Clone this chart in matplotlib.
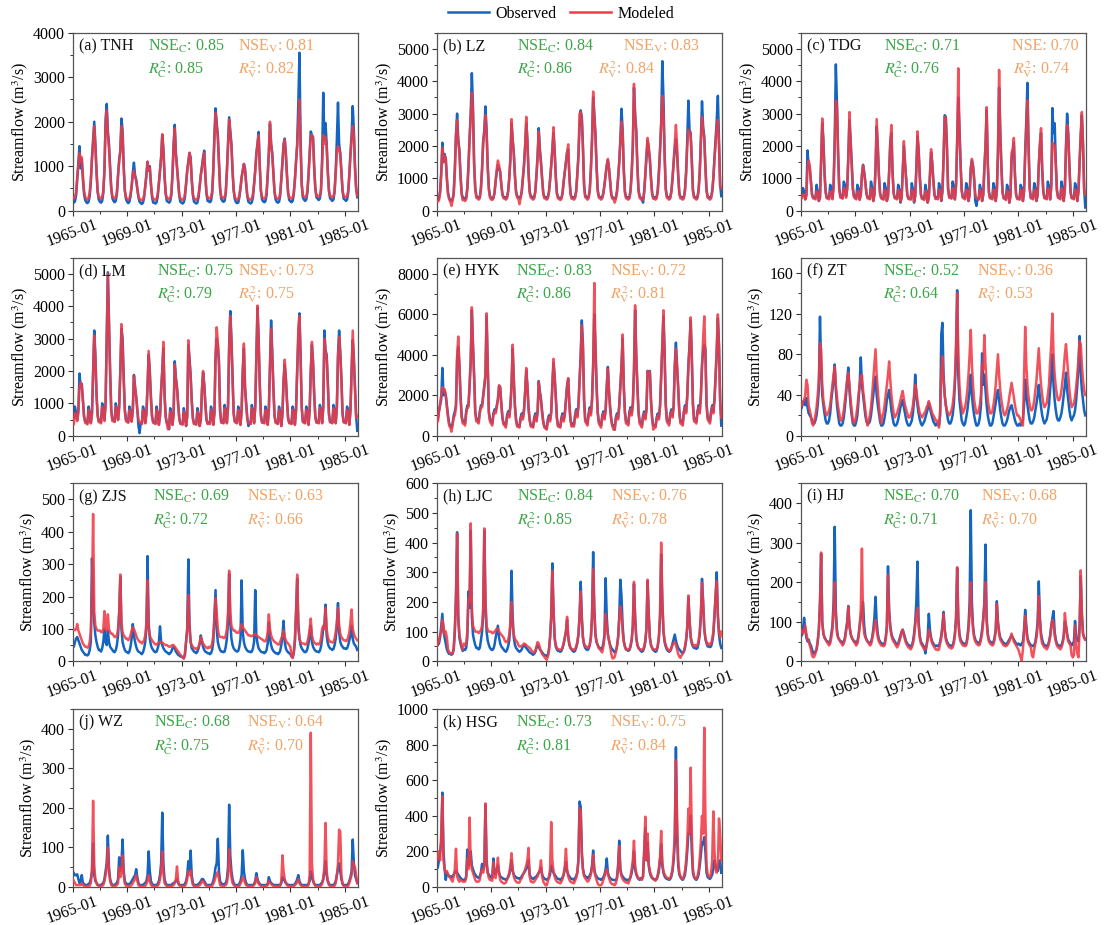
import numpy as np
import matplotlib
matplotlib.use('Agg')
import matplotlib.pyplot as plt
from matplotlib.lines import Line2D

plt.rcParams['font.family'] = ['Liberation Serif', 'DejaVu Serif']
plt.rcParams['mathtext.fontset'] = 'stix'


def series(s):
    # 21 rows (1965..1985) x 12 monthly values
    return np.array(s.split(), dtype=float)


# ---------------------------------------------------------------- data
STATIONS = ['TNH', 'LZ', 'TDG', 'LM', 'HYK', 'ZT', 'ZJS', 'LJC', 'HJ', 'WZ', 'HSG']
NSE_C = ['0.85', '0.84', '0.71', '0.75', '0.83', '0.52', '0.69', '0.84', '0.70', '0.68', '0.73']
NSE_V = ['0.81', '0.83', '0.70', '0.73', '0.72', '0.36', '0.63', '0.76', '0.68', '0.64', '0.75']
R2_C = ['0.85', '0.86', '0.76', '0.79', '0.86', '0.64', '0.72', '0.85', '0.71', '0.75', '0.81']
R2_V = ['0.82', '0.84', '0.74', '0.75', '0.81', '0.53', '0.66', '0.78', '0.70', '0.70', '0.84']
YTOP = [4000, 5500, 5500, 5500, 8800, 175, 550, 600, 450, 450, 1000]
YMAJ = [1000, 1000, 1000, 1000, 2000, 40, 100, 100, 100, 100, 200]
XTICKS = [1965, 1969, 1973, 1977, 1981, 1985]
XLABELS = ['1965-01', '1969-01', '1973-01', '1977-01', '1981-01', '1985-01']

TNH_OBS = series("""
200 180 210 350 700 1100 1450 950 1150 700 380 240
190 170 200 330 650 1200 1600 2000 1500 900 420 250
200 180 220 400 900 2050 2400 1800 1500 1000 500 280
220 190 220 380 800 1150 1350 2070 1800 1000 450 260
200 170 200 320 550 850 1080 800 700 500 300 200
170 150 180 300 550 800 1100 900 1000 600 300 180
180 160 190 320 600 900 1200 1700 1400 800 380 220
200 180 210 350 800 1500 1930 1300 1000 650 330 200
180 160 190 300 600 900 1100 1300 1200 700 350 200
180 160 180 300 550 800 1000 1200 1350 800 380 220
210 190 220 380 900 1700 2300 1980 1700 1100 500 270
220 200 220 380 900 1500 2100 1800 1500 900 450 260
190 170 180 300 500 750 900 1050 950 600 320 200
180 160 190 300 600 900 1300 1500 1770 1000 450 250
210 190 210 350 800 1300 1950 1500 1300 850 420 250
200 180 200 330 700 1100 1500 1620 1300 800 400 240
210 190 220 360 700 1100 1500 2400 3550 1600 600 300
250 220 250 400 800 1300 1780 1700 1650 1000 500 300
270 240 270 450 1200 2650 1600 1970 1500 900 450 280
250 220 250 420 900 1600 2430 1500 1300 900 450 270
250 220 250 400 800 1300 1700 2350 1800 1000 500 300
""")
TNH_MOD = series("""
300 280 300 420 750 1000 1300 1100 1200 800 450 320
270 250 280 420 700 1150 1500 1900 1450 850 450 300
300 260 300 450 900 1900 2250 1700 1400 900 500 320
300 270 300 420 800 1100 1300 1900 1700 950 450 300
270 240 270 380 550 800 900 750 680 480 330 260
250 230 250 350 550 800 1100 900 950 600 350 260
260 240 270 380 600 900 1200 1720 1350 780 400 280
280 250 280 400 800 1400 1850 1250 950 640 350 270
260 240 260 380 600 900 1100 1300 1150 700 380 270
260 240 260 360 550 800 950 1150 1300 780 400 280
290 270 300 440 900 1600 2200 1900 1650 1050 500 320
300 280 300 420 850 1450 2050 1700 1450 880 460 310
260 240 260 360 520 750 900 1050 900 620 350 270
260 240 270 380 600 900 1250 1500 1700 1000 450 300
290 270 290 420 800 1300 2000 1500 1250 850 430 300
280 260 280 400 700 1050 1450 1600 1250 780 420 290
290 270 300 420 700 1100 1450 2000 2500 1400 600 330
320 300 320 450 800 1250 1700 1700 1600 950 500 330
340 310 340 480 1000 1700 1500 1650 1450 850 460 330
320 300 320 450 850 1300 1450 1400 1250 850 460 320
320 300 320 450 800 1250 1600 1900 1700 950 500 340
""")

LZ_OBS = series("""
350 320 380 600 1200 2100 1500 1750 1600 1000 550 400
320 300 350 550 1300 2350 3000 2200 1900 1100 550 380
400 350 400 700 1400 2250 3000 4250 3200 1500 700 450
420 380 420 700 1300 2150 2500 3220 2500 1400 700 450
400 360 400 550 900 1200 1400 1300 1200 800 500 420
420 380 420 600 1000 1600 2700 2200 1800 1100 600 450
420 380 420 600 1000 1400 2000 2700 2200 1200 600 450
430 380 420 600 1100 1700 2550 1900 1500 1000 550 420
420 380 420 580 950 1400 1900 2400 1900 1100 550 420
400 360 400 550 900 1200 1500 1800 1900 1100 550 400
420 380 420 600 1100 1700 2600 3100 2900 2000 800 450
430 390 430 650 1300 2200 3500 3000 2400 1400 650 450
420 380 420 550 800 1100 1400 1550 1300 900 500 400
400 360 400 600 1000 1500 2200 3150 2500 1300 600 420
420 380 420 650 1200 2000 3800 3000 2500 1400 650 450
400 360 250 600 1100 1600 2150 1900 1600 1000 550 400
420 380 420 650 1200 1900 2700 4620 3500 1800 700 450
420 380 420 600 1000 1500 1900 2200 1800 1100 550 420
420 380 420 650 1200 2200 3400 2500 2400 1600 650 430
420 380 420 650 1200 2200 3380 2600 2300 1400 650 430
420 380 420 600 1000 1600 2200 2800 3550 2200 800 450
""")
LZ_MOD = series("""
300 280 320 550 1100 1950 1500 1700 1600 950 500 350
280 150 300 500 1200 2300 2800 2100 1800 1050 500 320
350 300 350 650 1300 2200 2900 3650 3000 1400 650 400
380 340 380 650 1250 2100 2400 2950 2400 1300 650 400
350 330 380 550 950 1300 1550 1400 1200 800 480 380
380 340 380 580 1000 1600 2830 2200 1750 1050 560 400
380 200 380 580 1000 1400 2000 2900 2100 1150 560 400
380 340 380 580 1100 1650 2450 1850 1450 950 520 380
380 340 380 560 950 1400 1850 2580 1850 1050 520 380
360 330 360 530 900 1200 1500 1800 2050 1050 520 370
380 340 380 580 1100 1650 3000 3050 2800 1900 750 420
380 340 380 600 1250 2150 3680 2900 2300 1350 600 400
380 340 380 530 800 1100 1400 1600 1300 880 480 370
360 250 360 560 1000 1500 2100 2750 2400 1250 560 380
380 340 380 600 1150 2000 3920 2900 2400 1350 600 400
360 320 360 560 1100 1800 2250 2000 1600 1000 520 370
380 340 380 600 1150 1850 2700 3550 3000 1700 650 400
380 340 380 580 1000 1500 2100 2650 2000 1100 520 380
380 340 380 600 1150 2000 2500 2450 2300 1500 600 400
380 340 380 600 1150 2100 2900 2500 2200 1300 600 400
380 340 380 580 1000 1600 2100 2600 2800 2000 750 700
""")

TDG_OBS = series("""
600 450 700 600 350 500 1860 1400 1300 900 500 400
400 380 800 600 300 400 1600 2700 2200 1200 600 400
400 380 800 700 400 800 2200 4520 3300 1800 700 450
420 400 900 800 450 700 1700 2800 2200 1500 700 450
400 380 800 700 350 500 1100 1420 1200 900 550 400
400 380 900 700 300 500 1300 2600 2000 1100 550 400
380 360 850 700 300 450 1200 2100 2400 1200 550 400
400 380 800 650 250 400 1200 2000 1500 1000 500 380
380 360 850 650 250 450 1300 2300 1900 1100 520 380
380 360 800 600 250 400 1100 1800 1500 950 500 380
400 380 850 700 300 600 1600 2950 2900 2000 700 420
420 400 900 750 350 800 2200 3500 2600 1500 650 420
400 380 850 700 300 500 1300 1550 1400 1000 300 150
380 360 800 650 300 500 1300 2000 3100 1500 600 400
400 380 850 700 300 600 1800 3800 2500 1400 600 400
380 360 800 650 250 450 1600 1800 2100 1100 500 380
380 360 800 700 300 600 1800 2800 3950 2000 700 400
400 380 850 700 300 500 1400 2000 2400 1300 600 400
400 380 900 750 350 800 3170 2400 2700 1500 650 420
400 380 900 700 300 700 2000 3000 2400 1400 600 400
400 380 850 700 300 600 1500 2300 2950 2100 700 100
""")
TDG_MOD = series("""
400 380 500 500 350 450 1300 1550 1400 900 500 380
380 350 600 550 300 400 1500 2850 2100 1100 550 380
380 350 600 600 350 700 2100 3400 3200 1700 650 400
400 370 700 650 400 650 1600 3050 2100 1400 650 420
380 350 600 600 330 500 1100 1400 1150 850 520 380
380 350 700 600 300 500 1300 2830 1900 1050 520 380
360 340 650 600 300 450 1150 2100 2650 1150 520 380
380 350 650 580 280 420 1200 2150 1450 950 480 360
360 340 650 580 280 450 1250 2450 1850 1050 500 360
360 330 620 550 260 420 1100 1900 1450 900 480 360
380 350 650 620 320 600 1600 2900 2850 1900 650 400
400 370 700 650 350 750 2100 4400 2500 1400 600 400
380 350 650 600 300 500 1300 1600 1350 950 520 380
360 340 650 600 300 500 1300 2000 3200 1450 560 380
380 350 650 620 300 600 1800 4350 2400 1350 560 380
360 330 620 580 250 450 1800 1900 2250 1050 480 360
360 340 650 620 300 600 1700 2600 3400 1900 650 380
380 350 650 620 300 500 1400 2100 2550 1250 560 380
380 350 700 650 350 700 2100 2050 2000 1400 600 400
380 350 700 620 300 650 1900 2650 2300 1350 560 380
380 350 650 600 300 600 1500 2400 3050 2000 650 500
""")

LM_OBS = series("""
600 550 900 700 500 800 1920 1500 1600 1100 600 450
400 380 900 700 400 700 2000 3250 2500 1300 650 450
450 420 1000 800 500 1000 3000 5050 3500 2000 800 500
480 450 1000 800 500 900 2000 3300 3000 1800 800 500
450 420 900 750 450 800 1880 1500 1200 800 300 80
400 380 900 750 400 700 1500 2500 2000 1200 600 420
400 380 900 700 350 600 1400 2000 2700 1300 600 400
380 200 850 650 350 700 2300 1800 1500 1000 550 380
380 360 850 650 300 600 2800 2400 1900 1100 550 380
380 360 850 650 300 500 1400 1950 1600 1000 500 380
400 380 900 700 350 700 2400 3000 2800 2300 800 420
420 400 950 750 400 900 2800 3850 3000 1800 700 450
420 400 900 700 350 800 2000 2700 1500 1000 550 300
400 380 950 750 400 900 2500 3950 3000 1600 650 420
420 400 900 750 350 800 2200 3560 2600 1500 650 420
400 380 900 700 300 700 1700 2200 1800 1100 550 400
400 380 900 750 350 800 2000 3000 3780 2500 900 450
420 400 900 750 350 800 2000 2800 2300 1300 600 420
420 400 950 800 400 900 3250 2650 2500 1700 700 430
430 400 950 800 400 900 2500 3250 2600 1800 700 430
420 400 900 750 350 800 2000 2950 2400 1500 600 150
""")
LM_MOD = series("""
500 350 700 650 450 700 1500 1650 1550 1100 600 400
380 350 800 650 380 650 1900 3100 2400 1250 600 420
420 380 900 750 450 950 2900 5000 3400 1900 750 450
450 420 900 750 480 850 2000 3450 2800 1700 750 450
420 400 800 700 430 750 1850 1500 1200 800 500 420
380 360 800 700 380 650 1500 2620 1900 1150 580 400
380 360 800 650 330 600 1400 2000 2900 1250 580 380
200 250 750 600 330 650 2200 1750 1450 950 520 360
360 340 750 600 300 600 2950 2300 1800 1050 520 360
360 340 750 600 300 500 1400 2000 1550 950 480 360
380 360 800 650 330 700 2500 3350 2900 2200 750 400
400 380 850 700 380 850 2700 3700 2900 1700 650 420
400 380 800 650 330 750 2000 2850 1500 950 520 380
380 360 850 700 380 850 2500 4020 2900 1550 600 400
400 380 800 700 330 750 2100 3300 2500 1450 600 400
380 360 800 650 300 650 1700 2350 1750 1050 520 380
380 360 800 700 330 750 2000 3300 3700 2400 850 420
400 380 800 700 330 750 2000 2900 2200 1250 560 400
400 380 850 750 380 850 3000 2600 2400 1600 650 410
410 380 850 750 380 850 2400 3050 2500 1700 650 410
400 380 800 700 330 750 2000 3250 2300 1400 560 600
""")

HYK_OBS = series("""
900 800 1200 1500 1800 3350 2000 2200 2000 1500 1000 600
500 400 600 1000 1200 1500 3800 4400 3500 2000 1000 700
700 600 1200 1500 1500 2500 3700 6200 4500 3000 1200 800
800 700 1200 1500 1500 2000 2500 3000 5900 3500 1200 800
700 600 1100 1300 1200 1500 1800 2450 2400 1600 900 600
600 500 1000 1200 1000 1500 2500 4300 2800 1500 800 500
500 450 900 1100 900 1300 2200 3200 2500 1400 800 500
500 450 900 1100 800 1200 2700 2200 1800 1200 700 450
400 350 800 1000 800 1200 2500 3600 3000 2000 900 500
500 450 900 1100 800 1100 1800 2500 2800 1600 800 500
600 500 1000 1300 1000 1500 2800 4000 5700 4500 1800 800
700 600 1100 1400 1100 1800 3500 6000 4500 2500 1200 700
600 500 1000 1200 900 1300 2500 3400 2200 1400 800 500
500 300 900 1100 900 1500 2500 3500 4800 2500 1200 700
700 600 1200 1400 1100 1600 3200 6200 4000 2500 1200 700
600 500 1000 1200 900 1300 3200 3100 3200 1800 900 500
500 450 900 1100 900 1500 3000 4600 5900 4200 1600 800
700 600 1100 1300 1000 1500 3500 4600 3500 2500 1200 700
700 600 1200 1500 1200 2000 3500 4500 5700 4000 1600 800
800 700 1200 1500 1200 2000 3500 4200 4500 4300 1600 900
800 700 1200 1500 1200 1800 3000 4000 5800 4500 1800 500
""")
HYK_MOD = series("""
700 700 1200 1600 2000 2400 2200 2300 2000 1400 900 500
400 200 500 900 1000 1400 3900 4900 3600 1900 900 600
600 500 1100 1400 1400 2400 3700 6350 4400 2900 1100 700
700 600 1100 1400 1400 1900 2400 3000 6050 3400 1100 700
600 500 1000 1200 1100 1400 1800 2500 2400 1500 850 550
500 400 900 1100 900 1400 2400 4500 2700 1400 750 450
450 400 800 1000 800 1200 2100 3350 2400 1300 750 450
450 400 800 1000 700 1100 2650 2100 1700 1100 650 400
350 300 700 900 700 1100 2400 3800 2900 1900 850 450
450 400 800 1000 700 1000 1700 2400 2850 1500 750 450
500 450 900 1200 900 1400 2700 3900 5450 4300 1700 700
600 500 1000 1300 1000 1700 3400 7550 4400 2400 1100 600
500 400 900 1100 800 1200 2400 3300 2100 1300 750 450
300 300 800 1000 800 1400 2400 3400 5000 2400 1100 600
600 500 1100 1300 1000 1500 3100 6450 3900 2400 1100 600
500 400 900 1100 800 1200 3200 3150 3150 1700 850 300
450 400 800 1000 800 1400 2900 4500 6200 4000 1500 700
600 500 1000 1200 900 1400 3400 4300 3400 2400 1100 600
600 500 1100 1400 1100 1900 3400 4400 5850 3800 1500 700
700 600 1100 1400 1100 1900 3400 4800 5900 4000 1500 800
700 600 1100 1400 1100 1700 2900 4500 6000 4300 1700 900
""")

ZT_OBS = series("""
25 28 32 35 30 37 28 22 20 18 15 12
12 15 20 30 45 117 70 40 30 22 15 12
12 15 22 35 45 55 70 45 30 20 12 10
10 12 18 28 40 55 67 45 30 20 12 10
10 14 20 35 50 77 50 40 30 20 14 12
12 14 20 30 40 50 58 40 30 22 14 10
10 12 18 25 35 40 45 35 25 18 12 10
10 12 16 22 28 32 35 28 22 16 12 10
10 12 15 22 35 60 40 30 22 16 12 10
12 14 18 22 26 32 28 22 18 14 12 10
12 12 10 20 100 111 60 40 30 22 15 12
12 15 20 30 50 80 143 60 35 25 15 12
10 12 18 25 35 45 60 40 28 20 14 10
10 12 18 30 81 50 60 45 30 20 14 10
10 12 18 25 32 40 45 35 25 18 12 10
10 12 15 20 25 28 30 25 20 15 12 10
10 12 10 12 15 30 55 40 30 22 15 12
12 14 18 25 32 40 50 38 28 20 15 12
14 16 22 30 45 60 80 50 35 25 18 15
15 18 22 30 40 50 62 45 35 25 18 15
18 20 25 35 50 70 98 60 45 35 25 20
""")
ZT_MOD = series("""
30 30 33 35 40 55 50 30 25 20 12 10
15 20 28 40 55 91 85 50 35 28 22 20
22 25 30 40 50 60 68 50 38 28 22 15
15 18 25 35 45 55 62 50 35 25 15 12
15 20 28 40 50 58 60 45 35 25 15 10
15 20 28 40 55 70 85 60 45 30 18 12
20 22 30 40 50 60 73 55 40 30 22 18
20 22 26 30 35 40 44 36 30 26 22 18
18 20 24 30 40 50 45 35 28 22 20 18
20 22 24 28 30 34 30 26 22 20 18 15
15 12 8 25 60 78 55 40 30 25 22 20
22 25 30 40 55 90 140 80 50 35 28 22
25 28 35 45 60 80 104 70 50 35 28 22
22 25 30 40 70 65 99 70 50 35 28 22
22 24 30 38 50 65 80 60 45 35 28 22
20 22 26 30 38 45 52 45 38 30 24 20
20 18 15 12 10 60 107 70 50 38 30 25
25 28 35 45 55 70 86 65 50 40 32 28
30 32 40 50 72 90 120 80 60 48 40 35
35 38 45 55 65 80 90 75 60 45 35 28
30 32 38 48 60 75 93 90 70 55 45 40
""")

ZJS_OBS = series("""
50 45 60 70 75 65 55 45 35 30 25 20
20 18 22 35 60 318 200 120 80 60 45 35
35 30 40 60 100 60 50 95 60 45 40 35
30 28 35 50 80 150 260 100 60 45 35 30
28 25 30 45 70 115 80 60 45 35 30 28
25 22 28 40 60 100 325 120 70 50 40 35
30 28 30 40 55 108 60 50 40 35 30 28
25 22 25 30 40 45 40 30 25 20 18 15
15 12 10 20 60 100 315 120 60 40 35 30
28 25 30 40 55 80 60 45 35 30 28 25
25 22 25 35 60 140 220 100 60 45 35 30
30 28 30 45 70 120 270 120 70 50 40 35
32 30 32 45 70 250 90 60 45 38 33 30
30 28 30 40 60 220 80 55 40 35 30 28
28 25 28 35 55 120 70 50 38 32 28 25
25 22 25 32 50 80 125 60 40 32 28 25
22 15 12 25 60 150 255 120 70 50 40 35
30 28 30 38 55 80 110 60 45 38 33 30
30 28 32 45 70 100 110 175 80 55 45 40
38 35 38 50 70 110 180 90 60 50 45 40
40 38 40 50 65 80 110 70 55 50 45 35
""")
ZJS_MOD = series("""
100 98 96 100 115 95 85 75 65 55 50 45
45 42 45 60 90 200 455 150 110 100 95 95
95 90 90 100 155 100 95 145 100 90 85 85
80 75 75 80 100 150 268 120 90 80 75 70
70 65 70 80 95 105 100 90 80 70 65 60
60 55 60 65 80 120 250 100 80 70 65 60
55 52 52 55 58 60 60 58 55 52 50 50
48 45 45 48 50 50 45 40 35 30 25 20
15 12 8 25 60 100 205 100 60 50 45 40
40 38 40 45 55 75 65 55 50 45 42 40
45 42 45 55 80 130 195 150 100 80 75 75
75 72 72 80 100 150 280 150 110 100 95 95
90 88 88 92 100 115 105 100 95 90 85 80
80 78 78 80 82 85 80 78 75 72 70 68
65 62 62 70 90 145 100 80 70 65 60 58
55 52 52 60 70 80 95 75 65 58 55 50
45 15 10 30 70 150 268 100 70 60 55 55
55 52 52 60 75 100 132 80 65 58 55 52
55 52 55 70 100 110 100 165 100 75 65 60
60 58 60 70 90 120 165 110 85 75 70 65
65 62 65 75 90 120 160 100 85 75 70 65
""")

LJC_OBS = series("""
50 55 60 80 120 160 100 80 60 40 30 25
25 22 25 40 100 225 435 150 80 60 45 35
40 38 45 80 235 180 440 150 90 70 55 45
45 40 45 70 100 150 440 200 100 70 55 45
40 38 42 55 80 100 120 80 60 50 45 40
35 32 38 50 70 120 305 150 80 55 45 40
35 32 35 40 50 55 50 45 40 35 30 28
25 22 25 32 45 55 50 40 35 30 25 20
20 18 20 40 80 150 330 180 80 50 40 35
35 32 35 45 60 80 100 140 80 55 45 40
35 32 35 45 60 90 150 268 150 80 55 45
40 38 42 55 80 150 368 180 90 65 55 45
45 40 45 60 90 280 150 90 70 55 45 40
35 30 35 50 80 150 275 220 120 70 50 40
38 35 38 50 70 120 260 150 80 55 45 40
35 32 35 45 65 110 270 160 80 55 45 38
35 32 35 50 80 150 360 200 100 65 50 40
35 32 35 45 60 75 90 70 55 45 40 35
30 28 32 45 70 110 215 140 80 60 50 45
45 42 45 60 90 150 278 200 110 75 60 50
50 48 50 65 90 150 220 300 150 90 60 45
""")
LJC_MOD = series("""
50 60 70 90 100 140 120 90 100 80 40 30
28 25 28 45 110 200 430 150 90 70 50 40
60 55 60 100 210 200 465 180 120 110 100 100
100 95 100 105 120 180 448 200 120 105 100 100
100 95 95 100 105 110 110 100 95 90 85 80
70 65 65 70 90 130 200 120 90 75 70 65
55 50 50 52 55 60 58 55 50 48 45 40
35 30 30 35 50 65 60 45 35 25 20 15
10 5 15 35 80 150 305 180 80 55 45 40
40 38 40 45 60 80 100 150 85 60 45 40
40 38 40 50 65 90 150 235 140 80 60 50
50 45 45 55 80 150 310 170 90 65 55 45
40 35 30 50 80 160 120 90 70 50 25 10
10 15 30 50 80 140 185 160 100 65 50 40
40 38 40 55 75 120 268 150 80 55 45 40
40 38 40 50 70 110 275 160 80 55 45 40
40 38 40 55 85 160 400 210 105 70 55 45
40 35 35 45 55 60 65 55 40 25 15 12
20 25 35 50 75 120 222 140 85 65 55 50
55 50 55 70 100 160 265 200 110 80 65 55
60 55 60 75 100 160 220 270 160 100 80 100
""")

HJ_OBS = series("""
70 65 80 110 80 60 50 55 45 40 30 20
20 25 30 50 80 150 272 100 70 60 55 50
50 45 50 70 90 150 340 130 80 60 55 50
50 45 50 60 80 100 140 90 70 60 55 50
50 45 50 65 90 110 130 150 90 65 55 50
48 45 48 60 80 110 163 100 70 55 50 45
45 42 45 60 90 240 130 90 70 60 55 50
45 42 45 55 65 75 80 70 60 50 45 40
40 35 40 50 70 100 150 252 100 65 50 45
40 35 20 40 60 120 80 60 50 45 40 38
40 38 40 50 65 90 125 80 60 50 45 40
40 38 40 50 70 110 235 110 70 55 50 45
45 42 45 60 90 150 382 150 90 65 55 50
48 45 48 60 80 110 150 295 110 70 55 50
48 45 48 60 80 152 100 75 60 55 50 45
45 42 45 50 55 60 65 60 55 50 45 42
45 42 40 45 50 80 130 90 60 50 45 40
40 38 40 50 70 100 202 110 70 55 45 40
40 38 40 50 65 90 110 127 75 55 45 40
40 38 40 50 65 100 90 70 55 50 45 40
45 50 102 60 55 50 90 215 120 70 60 55
""")
HJ_MOD = series("""
80 75 70 80 90 70 55 50 40 30 15 10
12 20 30 50 80 140 275 100 70 60 55 50
45 40 45 60 80 130 200 110 70 60 55 50
45 40 45 55 75 95 138 90 70 60 55 50
45 40 45 60 90 130 285 100 70 60 55 50
45 40 42 55 70 90 105 80 60 50 45 40
40 38 40 55 85 218 120 85 65 55 50 45
40 35 40 50 60 75 80 65 55 45 40 35
35 30 35 45 60 90 120 135 90 60 45 40
35 30 30 40 55 80 70 55 45 40 35 30
30 28 30 45 60 85 120 80 55 45 40 35
35 32 35 45 65 100 238 100 65 50 45 40
40 38 40 55 80 120 200 120 80 60 50 45
42 40 42 55 70 100 140 200 100 65 50 45
42 40 42 55 75 145 95 70 55 50 45 40
40 38 40 45 50 60 70 60 50 45 40 35
30 20 10 2 30 70 115 80 55 45 40 35
15 10 30 45 60 90 165 100 60 45 40 35
35 30 35 45 60 85 105 95 65 50 40 35
35 30 35 45 60 122 90 65 50 45 40 15
10 15 90 40 20 10 80 230 120 70 60 55
""")

WZ_OBS = series("""
40 35 30 30 32 20 10 15 30 10 8 5
5 5 8 10 20 40 110 30 15 10 5 5
5 5 8 10 20 40 60 130 50 20 10 5
5 5 8 10 20 75 40 60 120 40 15 8
8 6 8 10 15 20 25 30 45 25 10 5
5 5 5 8 10 15 30 90 40 15 8 5
5 5 5 8 15 30 60 188 60 20 10 5
5 5 5 5 8 10 12 15 20 10 5 5
5 5 5 8 15 30 65 40 92 30 10 5
5 5 5 8 10 15 20 20 15 10 5 5
5 5 5 8 15 30 50 60 122 40 15 8
8 6 8 10 20 50 208 80 40 20 10 5
5 5 5 8 15 30 93 40 20 10 5 5
5 5 5 5 8 15 35 20 12 8 5 5
5 5 5 5 8 25 15 10 8 5 5 5
5 5 5 5 10 25 20 15 10 8 5 5
5 5 5 5 8 12 20 30 15 8 5 5
5 5 5 5 8 15 40 25 15 8 5 5
5 5 5 8 12 20 40 65 30 15 8 5
5 5 5 8 15 30 45 60 40 20 8 5
5 5 5 8 15 25 40 120 60 30 20 10
""")
WZ_MOD = series("""
20 15 10 5 5 5 5 5 10 5 3 2
2 2 2 3 10 40 218 50 20 10 5 3
3 3 3 5 15 30 50 100 40 15 5 3
3 3 3 5 10 50 25 40 80 30 8 3
3 3 3 3 5 10 15 20 30 15 5 3
2 2 2 2 3 8 15 30 15 5 3 2
2 2 2 3 8 20 40 90 35 10 5 3
2 2 2 2 3 5 10 20 52 15 5 3
2 2 2 3 8 20 40 30 42 20 5 3
2 2 2 3 5 8 15 15 10 5 3 2
2 2 2 3 8 15 25 30 38 20 5 3
3 3 3 5 10 30 95 50 25 10 5 3
2 2 2 3 8 15 25 20 10 5 3 2
2 2 2 3 5 10 25 15 8 5 3 2
2 2 2 3 5 15 10 8 5 3 2 2
2 2 2 3 15 80 40 20 10 5 3 2
2 2 2 2 5 8 12 20 10 5 3 2
2 2 2 2 5 30 390 60 20 8 3 2
2 2 2 3 8 20 50 162 40 15 5 3
2 2 2 3 10 30 60 145 140 30 8 3
2 2 2 3 10 20 30 65 55 50 30 10
""")

HSG_OBS = series("""
100 110 150 200 250 530 200 100 40 80 70 60
60 55 60 70 80 90 80 70 60 50 45 40
40 40 60 210 120 150 200 120 100 80 70 60
55 50 60 80 130 100 120 460 150 80 70 60
55 50 160 80 70 100 120 80 60 55 50 45
45 40 45 55 70 100 150 90 70 60 55 50
50 45 50 60 70 80 90 100 120 150 70 55
50 45 50 55 60 70 80 90 110 70 55 45
45 40 45 50 70 120 100 80 70 60 50 45
45 40 45 55 70 100 140 90 70 60 50 45
45 40 50 60 80 150 480 450 200 100 70 60
55 50 55 65 80 120 205 100 70 60 50 45
45 40 45 55 70 100 160 80 60 50 45 40
40 38 40 50 120 260 100 70 60 50 45 40
40 38 45 55 80 120 200 100 70 55 45 40
50 45 60 200 330 150 250 120 80 60 50 45
45 40 45 60 90 150 240 120 80 60 50 45
45 40 45 60 90 150 250 785 300 120 70 55
45 40 50 70 120 200 300 300 400 200 80 55
45 40 50 70 120 180 250 240 280 200 80 55
50 45 55 70 100 150 120 100 90 130 150 80
""")
HSG_MOD = series("""
150 180 200 150 300 510 150 100 80 90 70 60
50 40 30 60 100 215 60 40 30 40 35 30
30 30 50 160 100 390 150 100 80 60 40 30
30 30 40 80 100 80 120 470 130 80 50 40
40 35 140 60 50 100 165 80 40 30 25 20
20 25 40 60 80 120 190 100 60 40 30 25
25 25 40 50 70 80 100 120 150 220 60 30
30 25 30 40 50 60 80 100 150 60 30 20
10 10 30 60 100 365 150 90 60 40 30 25
25 20 30 45 70 120 215 100 60 40 30 25
25 20 35 50 80 150 440 430 180 100 60 50
40 30 35 50 70 110 180 90 60 40 20 10
10 10 20 40 60 80 100 70 50 30 20 15
15 10 20 50 110 230 90 60 45 35 30 25
25 20 35 60 100 150 260 120 80 60 50 45
45 40 60 200 395 150 300 130 90 70 55 45
40 35 45 70 110 170 315 140 90 70 60 50
50 45 50 70 100 180 300 710 400 150 80 60
50 45 60 90 150 250 440 300 670 300 100 60
50 45 60 90 160 250 400 300 895 400 120 70
60 55 80 150 425 200 100 80 120 385 300 150
""")

OBS = [TNH_OBS, LZ_OBS, TDG_OBS, LM_OBS, HYK_OBS, ZT_OBS,
       ZJS_OBS, LJC_OBS, HJ_OBS, WZ_OBS, HSG_OBS]
MOD = [TNH_MOD, LZ_MOD, TDG_MOD, LM_MOD, HYK_MOD, ZT_MOD,
       ZJS_MOD, LJC_MOD, HJ_MOD, WZ_MOD, HSG_MOD]

# monthly time axis, Jan 1965 .. Dec 1985 (decimal years)
t = 1965 + np.arange(len(TNH_OBS)) / 12.0

# ---------------------------------------------------------------- layout
W, H = 1111, 925
COL_L = [72.7, 436.7, 800.7]
ROW_T = [32.7, 257.7, 483.3, 709.0]
AW, AH = 285.7, 178.0
# x positions (axes fraction) of the NSE_C/R2_C and NSE_V, R2_V texts
TX_C = [0.265, 0.28, 0.29, 0.294, 0.277, 0.289, 0.28, 0.28, 0.289, 0.284, 0.277]
TX_NV = [0.58, 0.653, 0.741, 0.578, 0.607, 0.618, 0.609, 0.609, 0.632, 0.61, 0.607]
TX_RV = [0.58, 0.564, 0.744, 0.578, 0.607, 0.618, 0.609, 0.609, 0.632, 0.61, 0.607]

C_OBS = '#1565c0'
C_MOD = '#f03a45'
C_GRN = '#3aa646'
C_ORG = '#f2a365'
FS = 11.5

fig = plt.figure(figsize=(W / 100, H / 100), dpi=100)

for i, st in enumerate(STATIONS):
    r, c = divmod(i, 3)
    rect = [COL_L[c] / W, 1 - (ROW_T[r] + AH) / H, AW / W, AH / H]
    ax = fig.add_axes(rect)
    ax.plot(t, OBS[i], color=C_OBS, lw=1.8, zorder=2)
    ax.plot(t, MOD[i], color=C_MOD, lw=1.8, alpha=0.88, zorder=3)
    ax.set_xlim(1965, 1986)
    ax.set_ylim(0, YTOP[i])
    ax.set_xticks(XTICKS)
    ax.set_xticklabels(XLABELS, rotation=20, ha='center', fontsize=FS)
    ax.set_xticks(np.arange(1967, 1986, 4), minor=True)
    ax.set_yticks(np.arange(0, YTOP[i] + 1, YMAJ[i]))
    ax.set_yticks(np.arange(0, YTOP[i] + 1, YMAJ[i] / 2), minor=True)
    ax.tick_params(axis='both', which='major', labelsize=FS, length=3.5,
                   width=0.8, pad=2, color='#333333')
    ax.tick_params(axis='both', which='minor', length=2, width=0.7,
                   color='#333333')
    ax.tick_params(axis='x', pad=1)
    for sp in ax.spines.values():
        sp.set_color('#555555')
        sp.set_linewidth(0.9)
    ax.set_ylabel('Streamflow (m$^3$/s)', fontsize=FS, labelpad=2)

    ax.text(0.022, 0.925, f'({chr(97 + i)}) {st}', transform=ax.transAxes,
            fontsize=FS, va='center', ha='left', color='#111111')
    ax.text(TX_C[i], 0.925, r'NSE$_\mathrm{C}$: ' + NSE_C[i],
            transform=ax.transAxes, fontsize=FS, va='center', color=C_GRN)
    ax.text(TX_C[i], 0.79, r'$R^2_\mathrm{C}$: ' + R2_C[i],
            transform=ax.transAxes, fontsize=FS, va='center', color=C_GRN)
    nse_v = 'NSE: ' if st == 'TDG' else r'NSE$_\mathrm{V}$: '
    ax.text(TX_NV[i], 0.925, nse_v + NSE_V[i],
            transform=ax.transAxes, fontsize=FS, va='center', color=C_ORG)
    ax.text(TX_RV[i], 0.79, r'$R^2_\mathrm{V}$: ' + R2_V[i],
            transform=ax.transAxes, fontsize=FS, va='center', color=C_ORG)

handles = [Line2D([], [], color=C_OBS, lw=1.8, label='Observed'),
           Line2D([], [], color=C_MOD, lw=1.8, label='Modeled')]
fig.legend(handles=handles, loc='center', bbox_to_anchor=(0.505, 0.985),
           ncol=2, frameon=False, fontsize=FS, handlelength=2.6,
           handletextpad=0.4, columnspacing=0.8)

fig.savefig('out.png', dpi=100)
